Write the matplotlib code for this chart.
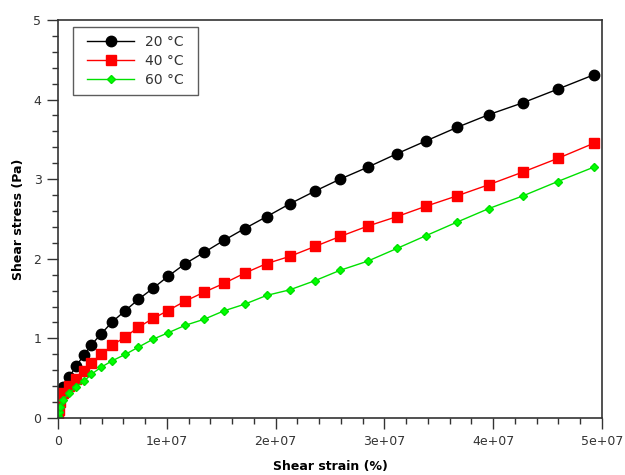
import numpy as np
import matplotlib
matplotlib.use("Agg")
import matplotlib.pyplot as plt
from matplotlib.ticker import MultipleLocator

# --- data (strain in units of 1e6 %) ---
strain_e6 = [0.0, 0.08, 0.2, 0.43, 1.04, 1.65, 2.36, 3.06, 3.98, 4.99, 6.19,
             7.38, 8.73, 10.11, 11.70, 13.42, 15.23, 17.16, 19.18, 21.3,
             23.62, 25.92, 28.46, 31.16, 33.82, 36.67, 39.59, 42.74, 45.93,
             49.24]

stress_20 = [0.10, 0.20, 0.30, 0.39, 0.52, 0.65, 0.79, 0.92, 1.06, 1.21,
             1.35, 1.49, 1.63, 1.78, 1.94, 2.08, 2.23, 2.38, 2.53, 2.69,
             2.85, 3.00, 3.15, 3.32, 3.48, 3.65, 3.81, 3.96, 4.13, 4.31]

stress_40 = [0.03, 0.10, 0.20, 0.31, 0.40, 0.49, 0.59, 0.69, 0.80, 0.915,
             1.02, 1.14, 1.25, 1.35, 1.47, 1.58, 1.69, 1.82, 1.94, 2.03,
             2.155, 2.28, 2.41, 2.53, 2.66, 2.79, 2.93, 3.09, 3.26, 3.45]

stress_60 = [0.02, 0.07, 0.14, 0.23, 0.31, 0.39, 0.46, 0.55, 0.64, 0.72,
             0.80, 0.89, 0.99, 1.07, 1.165, 1.24, 1.345, 1.43, 1.54, 1.61,
             1.725, 1.855, 1.97, 2.13, 2.29, 2.46, 2.63, 2.79, 2.97, 3.15]

labels = ["20 °C", "40 °C", "60 °C"]
xtick_vals = [0, 1e7, 2e7, 3e7, 4e7, 5e7]
xtick_labels = ["0", "1e+07", "2e+07", "3e+07", "4e+07", "5e+07"]

x = np.array(strain_e6) * 1e6

fig = plt.figure(figsize=(6.25, 4.75), dpi=100)
ax = fig.add_axes([0.093, 0.12, 0.87, 0.838])

ax.plot(x, stress_20, color="black", lw=1, marker="o", ms=7.5, label=labels[0])
ax.plot(x, stress_40, color="#ff0000", lw=1, marker="s", ms=6.5, label=labels[1])
ax.plot(x, stress_60, color="#00e000", lw=1, marker="D", ms=4.5,
        mfc="#00ff00", mec="#00e000", label=labels[2])

ax.set_xlim(0, 5e7)
ax.set_ylim(0, 5)
ax.set_xticks(xtick_vals)
ax.set_xticklabels(xtick_labels)
ax.xaxis.set_minor_locator(MultipleLocator(2e6))
ax.yaxis.set_major_locator(MultipleLocator(1))
ax.yaxis.set_minor_locator(MultipleLocator(0.2))

ax.tick_params(which="major", direction="out", length=8, width=1,
               color="#333333", labelsize=9, labelcolor="#333333", pad=4)
ax.tick_params(which="minor", direction="out", length=4.5, width=1,
               color="#333333")
for s in ax.spines.values():
    s.set_color("#333333")
    s.set_linewidth(1.2)

ax.set_xlabel("Shear strain (%)", fontsize=9, fontweight="bold", labelpad=9)
ax.set_ylabel("Shear stress (Pa)", fontsize=9, fontweight="bold", labelpad=6)

leg = ax.legend(loc="upper left", bbox_to_anchor=(0.039, 0.981), fontsize=10,
                frameon=True, fancybox=False, edgecolor="#333333",
                handlelength=3.4, handletextpad=0.8, labelspacing=0.35,
                borderpad=0.55, borderaxespad=0)
frame = leg.get_frame()
frame.set_linewidth(1.0)
# wider horizontal padding than vertical, like the reference box
frame.set_boxstyle("square", pad=0.45)
frame.set_mutation_aspect(0.01)
for t in leg.get_texts():
    t.set_color("#333333")

fig.savefig("out.png", dpi=100)
